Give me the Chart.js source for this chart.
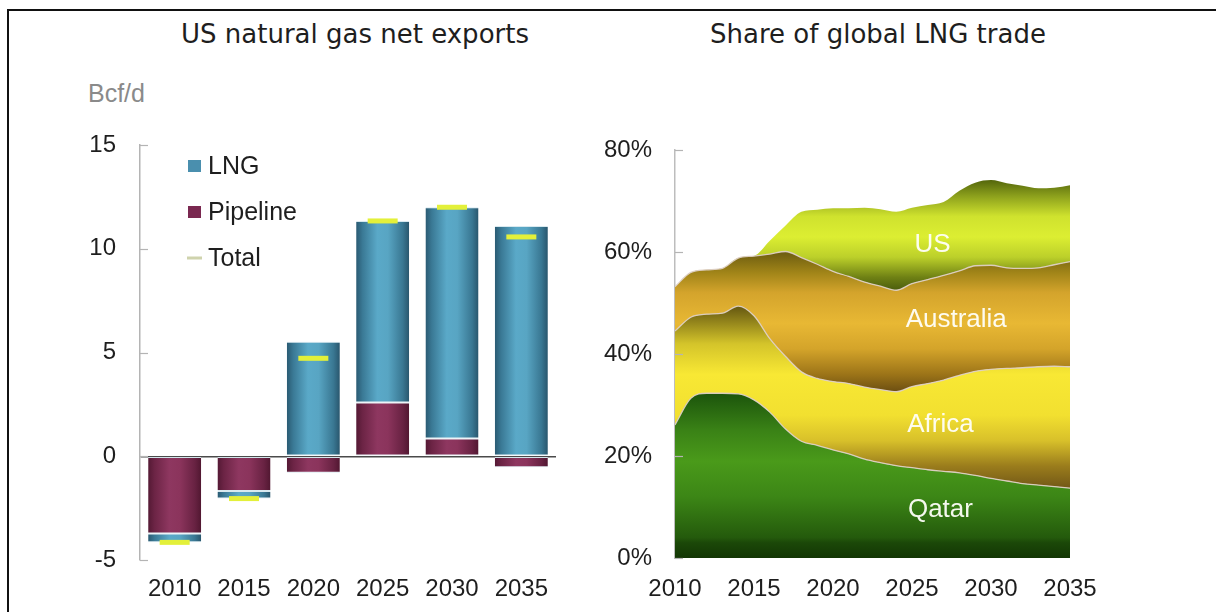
<!DOCTYPE html>
<html>
<head>
<meta charset="utf-8">
<script src="https://cdn.jsdelivr.net/npm/chart.js@4.4.1/dist/chart.umd.min.js"></script>
<style>
  html, body { margin: 0; padding: 0; background: #fff; }
  body { width: 1216px; height: 612px; position: relative; overflow: hidden; font-family: "Liberation Sans", Arial, sans-serif; }
  .frame { position: absolute; left: 7px; top: 9px; width: 1300px; height: 700px; border-left: 2px solid #111; border-top: 2px solid #111; }
  .title { position: absolute; top: 19px; font-family: "DejaVu Sans", sans-serif; font-size: 26px; line-height: 30px; color: #1e1e1e; white-space: nowrap; transform: translateX(-50%); }
  .unit { position: absolute; left: 88px; top: 80px; font-size: 25px; line-height: 27px; color: #8a8a8a; }
  #exports { position: absolute; left: 0; top: 0; }
  #share { position: absolute; left: 600px; top: 0; }
</style>
</head>
<body>
<div class="frame"></div>
<div class="title" style="left:355px">US natural gas net exports</div>
<div class="title" style="left:878px">Share of global LNG trade</div>
<div class="unit">Bcf/d</div>
<canvas id="exports" width="600" height="612"></canvas>
<canvas id="share" width="616" height="612"></canvas>
<script>
// net exports, Bcf/d
const periods = ["2010", "2015", "2020", "2025", "2030", "2035"];
const lng = [-0.43, -0.37, 5.52, 8.75, 11.15, 11.1];
const pipeline = [-3.72, -1.67, -0.8, 2.59, 0.85, -0.53];
const total = [-4.15, -2.04, 4.72, 11.34, 12.0, 10.57];
const exportTicks = [-5, 0, 5, 10, 15];

// share of global LNG trade, %
const years = [2010, 2011, 2012, 2013, 2014, 2015, 2016, 2017, 2018, 2019, 2020, 2021, 2022,
               2023, 2024, 2025, 2026, 2027, 2028, 2029, 2030, 2031, 2032, 2033, 2034, 2035];
const qatar = [26.1, 31.3, 32.3, 32.3, 32.2, 31.0, 28.6, 25.3, 22.9, 22.1, 21.2, 20.4, 19.4,
               18.7, 18.1, 17.7, 17.3, 17.0, 16.7, 16.2, 15.6, 15.1, 14.6, 14.3, 14.0, 13.7];
const africa = [18.4, 15.9, 15.5, 15.7, 17.2, 16.5, 14.4, 14.2, 13.6, 13.1, 13.4, 13.8, 14.1,
                14.3, 14.5, 15.9, 16.9, 17.9, 19.1, 20.4, 21.4, 22.1, 22.7, 23.2, 23.6, 23.8];
const australia = [8.7, 8.8, 8.7, 8.8, 9.4, 11.7, 16.6, 20.6, 22.4, 22.4, 21.6, 21.0, 20.6,
                   20.3, 19.9, 20.2, 20.4, 20.5, 20.5, 20.7, 20.4, 19.7, 19.5, 19.4, 19.9, 20.6];
const us = [0, 0, 0, 0, 0, 0, 2.6, 5.1, 9.0, 10.7, 12.4, 13.4, 14.6,
            15.1, 15.4, 14.9, 14.6, 14.4, 15.7, 16.3, 16.7, 16.6, 16.2, 15.6, 15.1, 15.0];
const shareTicks = [0, 20, 40, 60, 80];

const axisFont = { family: '"Liberation Sans", Arial, sans-serif', size: 24 };
const BAR_PCT = 0.765;

// cylinder-like shading across each bar
function barShade(stops) {
  return ctx => {
    const chart = ctx.chart;
    const xs = chart.scales.x;
    if (!chart.chartArea || !xs) return stops[2][1];
    const cx = xs.getPixelForValue(ctx.dataIndex);
    const half = xs.width / periods.length * BAR_PCT / 2;
    const g = chart.ctx.createLinearGradient(cx - half, 0, cx + half, 0);
    stops.forEach(([p, c]) => g.addColorStop(p, c));
    return g;
  };
}

// vertical shading of an area band, stops given in axis units
function bandShade(stops) {
  return ctx => {
    const chart = ctx.chart;
    const ys = chart.scales.y;
    if (!chart.chartArea || !ys) return stops[3][1];
    const bottom = ys.getPixelForValue(stops[0][0]);
    const top = ys.getPixelForValue(stops[stops.length - 1][0]);
    const g = chart.ctx.createLinearGradient(0, bottom, 0, top);
    stops.forEach(([v, c]) => g.addColorStop((ys.getPixelForValue(v) - bottom) / (top - bottom), c));
    return g;
  };
}

// short tick marks pointing into the plot from the y axis line
const innerTicks = {
  id: 'innerTicks',
  afterDatasetsDraw(chart) {
    const ys = chart.scales.y;
    const c = chart.ctx;
    c.save();
    c.strokeStyle = '#b4b4b4';
    c.lineWidth = 1.2;
    ys.ticks.forEach(t => {
      const y = Math.round(ys.getPixelForValue(t.value)) + 0.5;
      c.beginPath();
      c.moveTo(ys.right, y);
      c.lineTo(ys.right + 8, y);
      c.stroke();
    });
    c.restore();
  }
};

const lngShade = [[0, '#2a5a72'], [0.12, '#3a7995'], [0.4, '#5aa9c8'], [0.6, '#58a5c3'], [0.88, '#397792'], [1, '#29566d']];
const pipeShade = [[0, '#541934'], [0.12, '#6c2445'], [0.4, '#8e3760'], [0.6, '#8b345c'], [0.88, '#682242'], [1, '#511731']];

const legendItems = [
  { text: 'LNG', kind: 'box', color: '#4a8fae' },
  { text: 'Pipeline', kind: 'box', color: '#7a2850' },
  { text: 'Total', kind: 'line', color: '#cfd3ad' }
];

const exportLegend = {
  id: 'exportLegend',
  afterDraw(chart) {
    const c = chart.ctx;
    const left = chart.chartArea.left + 48;
    c.save();
    c.font = '25px "Liberation Sans", Arial, sans-serif';
    c.textBaseline = 'middle';
    legendItems.forEach((item, i) => {
      const y = chart.chartArea.top + 21 + i * 46;
      if (item.kind === 'box') {
        c.fillStyle = item.color;
        c.fillRect(left, y - 6, 13, 12);
      } else {
        c.strokeStyle = item.color;
        c.lineWidth = 3;
        c.beginPath();
        c.moveTo(left - 1, y);
        c.lineTo(left + 14, y);
        c.stroke();
      }
      c.fillStyle = '#1e1e1e';
      c.fillText(item.text, left + 20, y + 1);
    });
    c.restore();
  }
};

new Chart(document.getElementById('exports'), {
  type: 'bar',
  data: {
    labels: periods,
    datasets: [
      {
        label: 'Pipeline', data: pipeline, stack: 'net', order: 2,
        backgroundColor: barShade(pipeShade),
        borderColor: 'rgba(214,232,238,0.95)',
        borderWidth: { top: 1, bottom: 1, left: 0, right: 0 },
        borderSkipped: false,
        barPercentage: BAR_PCT, categoryPercentage: 1
      },
      {
        label: 'LNG', data: lng, stack: 'net', order: 2,
        backgroundColor: barShade(lngShade),
        borderColor: 'rgba(214,232,238,0.95)',
        borderWidth: { top: 1, bottom: 1, left: 0, right: 0 },
        borderSkipped: false,
        barPercentage: BAR_PCT, categoryPercentage: 1
      },
      {
        type: 'line', label: 'Total', data: total, stack: 'total', order: 0,
        showLine: false,
        pointStyle: 'line', pointRadius: 15, pointHoverRadius: 15,
        pointBorderWidth: 5, pointBorderColor: '#e3f03a', pointBackgroundColor: '#e3f03a'
      }
    ]
  },
  options: {
    responsive: false,
    animation: false,
    layout: { padding: { top: 145, right: 44, bottom: 0, left: 0 } },
    plugins: { legend: { display: false }, title: { display: false }, tooltip: { enabled: false } },
    scales: {
      x: {
        stacked: true,
        grid: { display: false, drawTicks: false },
        border: { display: false },
        ticks: { font: axisFont, color: '#1e1e1e', padding: 15, maxRotation: 0 },
        afterFit: s => { s.height = 52; }
      },
      y: {
        stacked: true,
        min: -5, max: 15,
        z: 1,
        afterBuildTicks: s => { s.ticks = exportTicks.map(v => ({ value: v })); },
        ticks: { font: axisFont, color: '#1e1e1e', padding: 24 },
        grid: {
          drawTicks: false,
          color: c => c.tick && c.tick.value === 0 ? '#4a4a4a' : 'rgba(0,0,0,0)',
          lineWidth: 1.5
        },
        border: { display: true, color: '#b4b4b4', width: 1.5 },
        afterFit: s => { s.width = 140; }
      }
    }
  },
  plugins: [exportLegend, innerTicks]
});

const bandLabels = [
  { text: 'US', x: 2026.3, y: 61.4 },
  { text: 'Australia', x: 2027.8, y: 46.7 },
  { text: 'Africa', x: 2026.8, y: 26.1 },
  { text: 'Qatar', x: 2026.8, y: 9.4 }
];

const bandText = {
  id: 'bandText',
  afterDatasetsDraw(chart) {
    const c = chart.ctx;
    c.save();
    c.font = '26px "Liberation Sans", Arial, sans-serif';
    c.fillStyle = 'rgba(255,255,250,0.95)';
    c.textAlign = 'center';
    c.textBaseline = 'middle';
    bandLabels.forEach(l => {
      c.fillText(l.text, chart.scales.x.getPixelForValue(l.x), chart.scales.y.getPixelForValue(l.y));
    });
    c.restore();
  }
};

const seam = 'rgba(222,208,196,0.95)';
const band = (label, values, fill, shade, edge) => ({
  label,
  data: years.map((x, i) => ({ x, y: values[i] })),
  fill,
  backgroundColor: bandShade(shade),
  borderColor: edge,
  borderWidth: edge ? 1.3 : 0,
  pointRadius: 0,
  cubicInterpolationMode: 'monotone'
});

new Chart(document.getElementById('share'), {
  type: 'line',
  data: {
    datasets: [
      band('Qatar', qatar, 'origin',
        [[0, '#133604'], [3, '#1b4808'], [4, '#245a0c'], [12, '#3c8616'], [19, '#4a9a1a'], [25, '#3a8216'], [32, '#1d560c']], seam),
      band('Africa', africa, '-1',
        [[13, '#6c5216'], [18, '#9a7c1c'], [23, '#d8c02a'], [28, '#f2e030'], [36, '#f8e834'], [42, '#d4c42a'], [49, '#6a5c12']], seam),
      band('Australia', australia, '-1',
        [[32, '#644810'], [36, '#9c7418'], [41, '#d4a42a'], [46, '#e8b834'], [52, '#d4a42c'], [56, '#a08418'], [60, '#6c5c10']], seam),
      band('US', us, '-1',
        [[52, '#44560c'], [55, '#6e8014'], [59, '#bcd02a'], [63, '#dcee32'], [67, '#cfe22e'], [71, '#8ca01c'], [74, '#56680c']], null)
    ]
  },
  options: {
    responsive: false,
    animation: false,
    layout: { padding: { top: 150, right: 146, bottom: 0, left: 0 } },
    plugins: { legend: { display: false }, title: { display: false }, tooltip: { enabled: false } },
    scales: {
      x: {
        type: 'linear',
        min: 2010, max: 2035,
        grid: { display: false, drawTicks: false },
        border: { display: false },
        ticks: { stepSize: 5, font: axisFont, color: '#1e1e1e', padding: 17, maxRotation: 0, callback: v => String(v) },
        afterFit: s => { s.height = 54; }
      },
      y: {
        stacked: true,
        min: 0, max: 80,
        afterBuildTicks: s => { s.ticks = shareTicks.map(v => ({ value: v })); },
        ticks: { font: axisFont, color: '#1e1e1e', padding: 23, callback: v => v + '%' },
        grid: { display: false, drawTicks: false },
        border: { display: true, color: '#bdbdbd', width: 1.5 },
        afterFit: s => { s.width = 75; }
      }
    }
  },
  plugins: [bandText, innerTicks]
});
</script>
</body>
</html>
